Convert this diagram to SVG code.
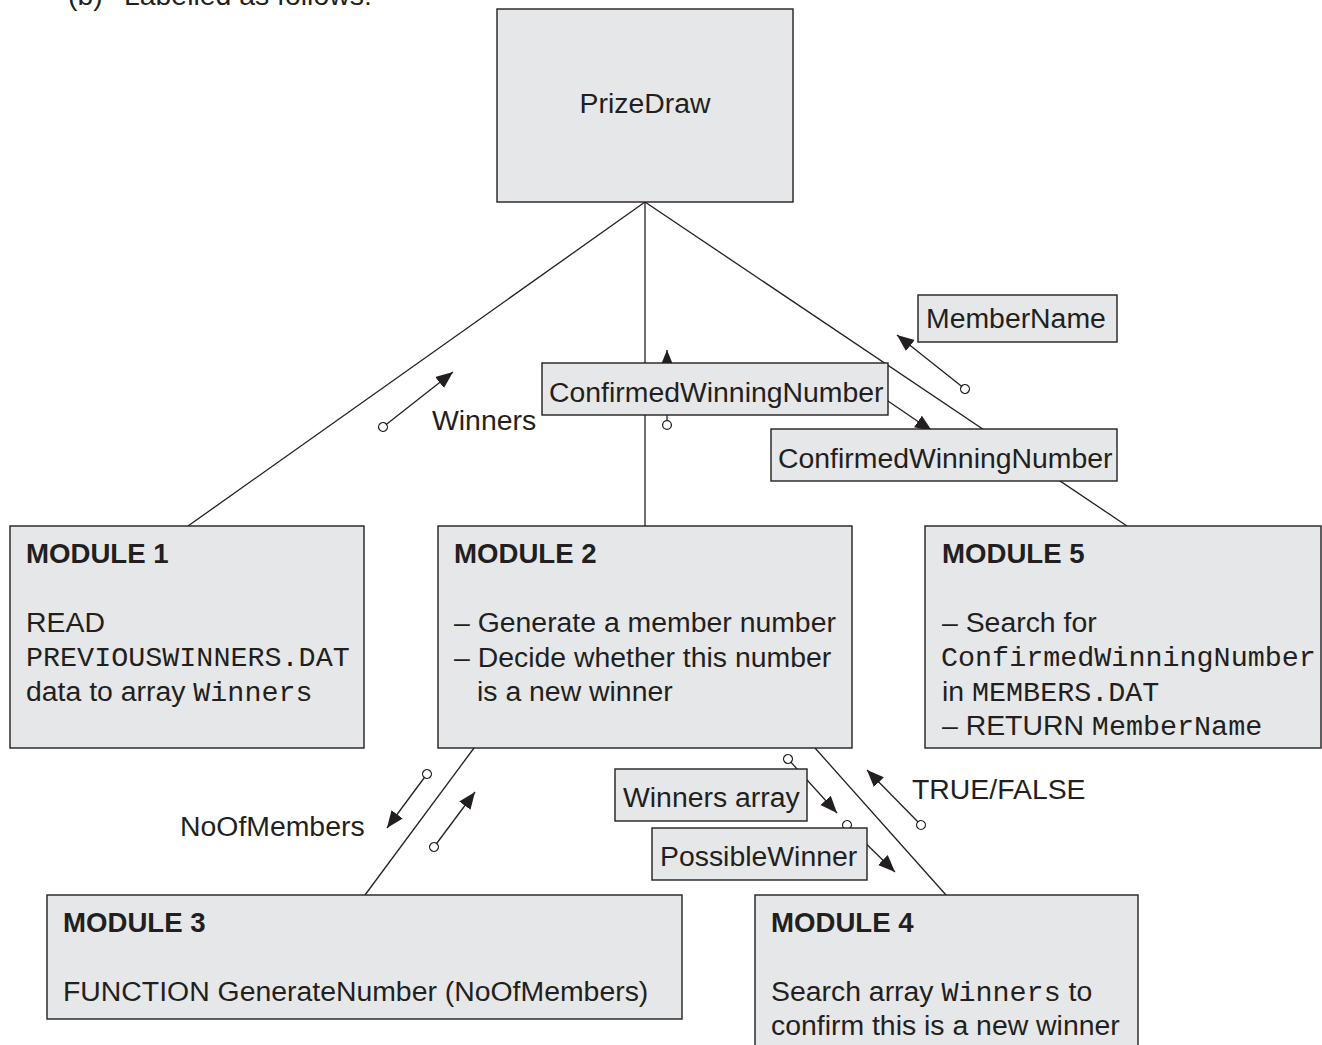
<svg xmlns="http://www.w3.org/2000/svg" width="1322" height="1045" viewBox="0 0 1322 1045">
<style>
.box{fill:#e6e7e8;stroke:#231f20;stroke-width:1.4}
.ln{stroke:#231f20;stroke-width:1.3;fill:none}
.fl{stroke:#231f20;stroke-width:1.3;fill:none;marker-start:url(#dot);marker-end:url(#arr)}
text{font-family:"Liberation Sans",Arial,Helvetica,sans-serif;font-size:28.4px;fill:#231f20}
.b{font-weight:bold;font-size:27.6px}
.m{font-family:"Liberation Mono","Courier New",monospace;font-size:28.4px}
</style>
<defs>
<marker id="arr" markerUnits="userSpaceOnUse" markerWidth="18" markerHeight="16" viewBox="0 0 18 16" refX="17" refY="7" orient="auto">
<path d="M0,0 L17,7 L0,14 z" fill="#231f20"/>
</marker>
<marker id="dot" markerUnits="userSpaceOnUse" markerWidth="12" markerHeight="12" viewBox="0 0 12 12" refX="6" refY="6" orient="auto">
<circle cx="6" cy="6" r="4.4" fill="#fff" stroke="#231f20" stroke-width="1.3"/>
</marker>
</defs>
<rect width="1322" height="1045" fill="#fff"/>
<text x="68" y="5">(b)</text>
<text x="124" y="5">Labelled as follows:</text>

<g id="connectors">
<line class="ln" x1="645" y1="202" x2="188" y2="526"/>
<line class="ln" x1="645" y1="202" x2="645" y2="526"/>
<line class="ln" x1="645" y1="202" x2="1127" y2="526"/>
<line class="ln" x1="474" y1="748" x2="365" y2="895"/>
<line class="ln" x1="815" y1="748" x2="946" y2="895"/>
<line class="fl" x1="383" y1="427" x2="453" y2="372"/>
<line class="fl" x1="667" y1="425" x2="667" y2="350"/>
<line class="fl" x1="965" y1="389" x2="897" y2="335"/>
<line class="fl" x1="860" y1="382" x2="932" y2="431"/>
<line class="fl" x1="427" y1="774" x2="387" y2="828"/>
<line class="fl" x1="434" y1="847" x2="475" y2="792"/>
<line class="fl" x1="788" y1="759" x2="837" y2="813"/>
<line class="fl" x1="847" y1="825" x2="895" y2="872"/>
<line class="fl" x1="921" y1="825" x2="867" y2="770"/>
</g>

<g id="flow-labels">
<text x="432" y="430">Winners</text>
<rect class="box" x="542" y="363" width="346" height="52"/>
<text x="549" y="402">ConfirmedWinningNumber</text>
<rect class="box" x="918" y="295" width="199" height="47"/>
<text x="926" y="328">MemberName</text>
<rect class="box" x="771" y="429" width="346" height="52"/>
<text x="778" y="468">ConfirmedWinningNumber</text>
<text x="180" y="836">NoOfMembers</text>
<rect class="box" x="615" y="769" width="192" height="52"/>
<text x="623" y="807">Winners array</text>
<rect class="box" x="652" y="828" width="215" height="52"/>
<text x="660" y="866">PossibleWinner</text>
<text x="912" y="799">TRUE/FALSE</text>
</g>

<g id="prizedraw">
<rect class="box" x="497" y="9" width="296" height="193"/>
<text x="645" y="113" text-anchor="middle">PrizeDraw</text>
</g>

<g id="module1">
<rect class="box" x="10" y="526" width="354" height="222"/>
<text class="b" x="26" y="563">MODULE 1</text>
<text x="26" y="632">READ</text>
<text class="m" x="26" y="666">PREVIOUSWINNERS.DAT</text>
<text x="26" y="701">data to array <tspan class="m">Winners</tspan></text>
</g>

<g id="module2">
<rect class="box" x="438" y="526" width="414" height="222"/>
<text class="b" x="454" y="563">MODULE 2</text>
<text x="454" y="632">– Generate a member number</text>
<text x="454" y="667">– Decide whether this number</text>
<text x="477" y="701">is a new winner</text>
</g>

<g id="module5">
<rect class="box" x="925" y="526" width="396" height="222"/>
<text class="b" x="942" y="563">MODULE 5</text>
<text x="942" y="632">– Search for</text>
<text class="m" x="941" y="666">ConfirmedWinningNumber</text>
<text x="942" y="701">in <tspan class="m">MEMBERS.DAT</tspan></text>
<text x="942" y="735">– RETURN <tspan class="m">MemberName</tspan></text>
</g>

<g id="module3">
<rect class="box" x="47" y="895" width="635" height="124"/>
<text class="b" x="63" y="932">MODULE 3</text>
<text x="63" y="1001">FUNCTION GenerateNumber (NoOfMembers)</text>
</g>

<g id="module4">
<rect class="box" x="755" y="895" width="383" height="170"/>
<text class="b" x="771" y="932">MODULE 4</text>
<text x="771" y="1001">Search array <tspan class="m">Winners</tspan> to</text>
<text x="771" y="1035">confirm this is a new winner</text>
</g>
</svg>
